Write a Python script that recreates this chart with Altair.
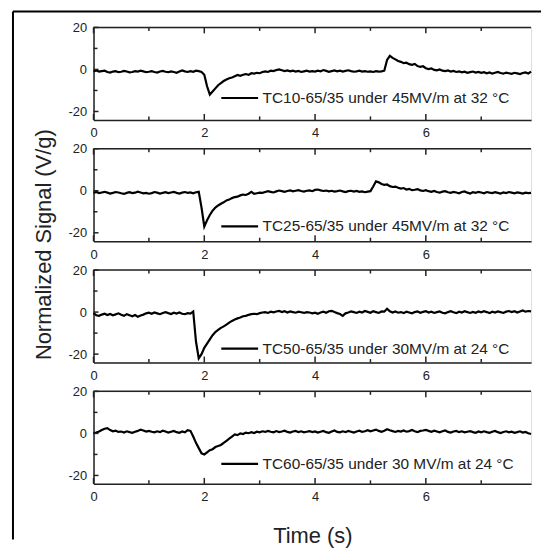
import altair as alt
import pandas as pd

# sampling grid (seconds)
times = [round(i * 0.05, 2) for i in range(159)]

labels = [
    "TC10-65/35 under 45MV/m at 32 °C",
    "TC25-65/35 under 45MV/m at 32 °C",
    "TC50-65/35 under 30MV/m at 24 °C",
    "TC60-65/35 under 30 MV/m at 24 °C",
]

s1 = [
    -1, -0.5, -1, -0.8, -0.6, -1.2, -1.5, -1, -0.8, -1.3, -1.1, -0.7, -1, -1.4, -1.2, -0.8, -1, -0.6, -0.9, -1.3,
    -1.1, -0.8, -1.2, -1.5, -1, -0.7, -1.1, -1.3, -0.9, -1.2, -1.6, -1, -0.5, -0.9, -1.2, -0.8, -1.1, -0.6, -0.8, -1.2,
    -2.5, -8, -12, -10.5, -9, -7.5, -6.5, -5.5, -4.8, -4.2, -3.8, -3.2, -2.6, -3, -2.5, -2.2, -2.6, -1.8, -2, -1.6,
    -1.8, -1.2, -0.9, -1.2, -0.6, -0.8, -0.3, 0, -0.4, -0.8, -0.5, -0.9, -0.6, -1, -0.7, -1.2, -0.9, -0.6, -1, -0.8,
    -1, -0.6, -0.9, -0.3, -0.7, -1.1, -0.8, -0.5, -0.9, -0.6, -1, -0.7, -0.4, -0.8, -1.1, -0.9, -0.6, -1, -0.8, -1.1,
    -0.9, -1.2, -0.8, -1, -0.9, -0.6, 4.5, 6.5, 5.5, 4.8, 4, 3.6, 3, 3.2, 2.5, 2.2, 2.6, 1.6, 1.2, 1.5,
    0.6, 0.2, 0.5, -0.2, -0.4, 0, -0.6, -0.8, -0.5, -1, -0.7, -1.2, -0.9, -1.4, -1.1, -1.6, -1.3, -1, -1.5, -1.2,
    -1.6, -1.3, -1.8, -1.4, -2, -1.6, -1.2, -1.7, -2, -1.5, -1.8, -2.1, -1.6, -1.9, -2.2, -1.7, -1.4, -1.9, -1.0,
]

s2 = [
    -1, -0.6, -1.1, -0.8, -0.5, -0.9, -1.3, -1, -0.6, -0.8, -1.2, -1.5, -1, -0.7, -1.1, -0.9, -0.4, -0.8, -1.2, -1,
    -1.4, -1.1, -0.6, -0.9, -1.3, -1, -0.7, -1.1, -0.8, -0.5, -1, -1.3, -0.9, -0.6, -1, -0.8, -1.2, -0.7, -0.5, -8,
    -17, -14, -11.5, -9.5, -8, -7, -6.2, -5.5, -4.6, -4.2, -3.5, -3, -2.8, -2.2, -1.8, -2, -1.4, -0.5, -1.5, -1.2,
    -0.9, -1, -0.6, -0.2, -0.5, -0.8, -0.3, 0.1, -0.2, -0.5, -0.1, 0.2, -0.3, 0, 0.3, -0.1, -0.4, 0, 0.2, -0.2,
    0.4, 0.6, 0.2, -0.1, 0.1, -0.3, 0, -0.4, -0.2, 0.1, -0.3, -0.6, -0.2, 0, -0.4, -0.1, -0.5, -0.3, -0.7, -0.4,
    -0.2, 2, 4.5, 4, 3.2, 2.8, 3, 2.2, 1.8, 2, 1.4, 1, 1.3, 0.6, 0.9, 0.3, 0.5, 0.8, 0.2, -0.1,
    0.3, -0.2, -0.5, -0.1, -0.6, -0.9, -0.4, -0.2, -0.7, -1, -0.5, -0.8, -1.2, -0.6, -0.3, -0.9, -1.3, -0.7, -1, -0.5,
    -0.8, -1.2, -0.6, -0.9, -1.1, -0.7, -1, -1.3, -0.8, -1.1, -0.6, -0.9, -1.2, -0.8, -1, -1.3, -0.9, -1.1, -1.0,
]

s3 = [
    -0.5, -1.5, -1.8, -1.2, -0.8, -1.4, -0.9, -1.5, -1.1, -0.6, -1.3, -1.8, -1, -1.5, -2, -1.4, -2.2, -1.6, -1.2, -0.6,
    -0.3, -0.8, -0.2, -0.6, -1, -0.4, 0, -0.5, -0.9, -0.3, -0.7, -0.2, -0.8, -1, -0.5, -0.7, 0.3, -14, -22, -20,
    -17, -15, -13, -11, -9.5, -8.5, -7.5, -6.8, -6, -5, -4.2, -3.5, -3, -2.6, -2, -1.8, -1.3, -1, -0.8, -1,
    -0.5, -0.2, 0, -0.4, 0.2, -0.1, 0.3, 0.6, 0, 0.4, -0.2, 0.3, 0, -0.3, 0.2, -0.1, -0.4, 0, -0.2, -0.6,
    -0.3, -0.8, -0.2, 0.2, -0.3, 0.4, 0.6, 0, -0.5, -0.9, -1.8, -0.6, -0.2, 0.3, 0, -0.4, 0.2, -0.2, 0.5, 0.1,
    -0.3, 0.4, 0, -0.4, 0.3, 0.2, 1.6, 0.4, -0.2, 0.3, -0.3, 0, -0.5, 0.2, -0.2, -0.6, 0, 0.3, -0.3, 0.1,
    0.4, -0.2, 0.2, -0.4, 0, 0.3, -0.3, -0.6, 0, 0.4, -0.1, -0.5, 0.2, -0.2, 0.4, 0, -0.4, 0.1, -0.3, 0.3,
    -0.1, 0.4, 0, -0.5, 0.2, -0.2, 0.3, 0, -0.4, 0.2, 0.5, 0, 0.4, -0.2, 0.3, 0.8, 0.2, 0.5, 0.3,
]

s4 = [
    0, 0.4, 0.9, 1.6, 2.2, 2.5, 1.6, 1.0, 1.3, 0.7, 0.9, 0.4, 1.0, 0.6, 0.3, 0.8, 1.2, 1.8, 1.4, 0.9,
    1.2, 0.8, 0.5, 1.0, 0.6, 1.3, 0.9, 0.4, 0.8, 1.2, 0.6, 0.3, 0.9, 0.5, 1.5, 1.2, -1.5, -4.5, -7, -9.5,
    -10, -9, -8, -7.5, -6.5, -6, -5.5, -4.5, -3.5, -2.5, -1.5, -0.5, -0.8, 0, -0.3, 0.4, 0.1, 0.6, 0.2, 0.8,
    0.5, 1.0, 0.7, 1.2, 0.8, 0.5, 1.1, 0.6, 0.9, 1.3, 0.7, 0.4, 0.9, 1.2, 0.6, 1.0, 0.5, 0.8, 1.1, 0.6,
    0.9, 0.4, 0.8, 1.2, 0.6, 0.3, 0.9, 1.4, 0.7, 0.5, 1.0, 0.6, 1.2, 0.8, 0.4, 0.9, 1.3, 0.7, 1.0, 1.5,
    1.0, 1.4, 1.8, 1.2, 0.8, 1.3, 2.0, 1.5, 1.1, 0.7, 1.2, 0.9, 1.4, 0.8, 1.1, 1.6, 1.0, 0.6, 1.2, 1.4,
    1.7, 1.2, 0.8, 1.3, 0.9, 0.5, 1.0, 1.4, 0.7, 0.4, 0.9, 1.2, 0.6, 1.0, 0.5, 0.8, 1.1, 0.6, 0.3, 0.9,
    0.5, 1.0, 0.6, 0.3, 0.8, 1.2, 0.6, 0.2, 0.7, 1.0, 0.5, 0.8, 0.3, 0.6, 1.0, 0.4, 0.7, 0.1, -0.3,
]

series = [s1, s2, s3, s4]
legend_y = [51, 58, 59, 53]

x_major = [0, 2, 4, 6]
x_minor = [1, 3, 5, 7]
y_major = [-20, 0, 20]
y_minor = [-10, 10]

X_DOMAIN = [0, 7.9]
Y_DOMAIN = [-24, 20]
W, H = 440, 93
FONT = "Liberation Sans"
INK = "#222222"


def panel(i):
    df = pd.DataFrame({"t": times, "v": series[i], "name": labels[i]})
    xs = alt.Scale(domain=X_DOMAIN, nice=False, zero=False)
    ys = alt.Scale(domain=Y_DOMAIN, nice=False, zero=False)

    xa = dict(values=x_major, ticks=False, grid=False, domain=True, domainColor=INK,
              domainWidth=1.5, labelFontSize=13, labelColor=INK, labelPadding=7,
              labelFlush=False, labelFont=FONT, title=None)
    if i == 3:
        xa.update(title="Time (s)", titleFontSize=22, titleFont=FONT, titleFontWeight="normal",
                  titleColor=INK, titleY=59, titleBaseline="alphabetic")
    ya = dict(values=y_major, ticks=False, grid=False, domain=True, domainColor=INK,
              domainWidth=1.5, labelFontSize=13, labelColor=INK, labelPadding=7,
              labelFont=FONT, labelExpr="'' + datum.value", title=None)
    if i == 0:
        ya.update(title="Normalized Signal (V/g)", titleFontSize=22, titleFont=FONT,
                  titleFontWeight="normal", titleColor=INK, titleX=-50, titleY=218,
                  titleAngle=270, titleAlign="center", titleBaseline="middle")

    line = alt.Chart(df).mark_line(strokeWidth=2.2).encode(
        x=alt.X("t:Q", scale=xs, axis=alt.Axis(**xa)),
        y=alt.Y("v:Q", scale=ys, axis=alt.Axis(**ya)),
        color=alt.Color(
            "name:N",
            scale=alt.Scale(range=["black"]),
            legend=alt.Legend(orient="none", legendX=127, legendY=legend_y[i], title=None,
                              symbolType="stroke", symbolSize=1369, symbolStrokeWidth=2.2,
                              labelFontSize=15.5, labelFont=FONT, labelColor=INK,
                              labelOffset=3, padding=0, labelLimit=500),
        ),
    )

    def xt(vals, y1, y2):
        return alt.Chart(pd.DataFrame({"t": vals})).mark_rule(color=INK, strokeWidth=1.5).encode(
            x=alt.X("t:Q", scale=xs), y=alt.value(y1), y2=alt.value(y2))

    def yt(vals, x1, x2):
        return alt.Chart(pd.DataFrame({"v": vals})).mark_rule(color=INK, strokeWidth=1.5).encode(
            y=alt.Y("v:Q", scale=ys), x=alt.value(x1), x2=alt.value(x2))

    one = pd.DataFrame({"k": [0]})
    top_border = alt.Chart(one).mark_rule(color=INK, strokeWidth=1.5).encode(
        x=alt.value(0), x2=alt.value(W), y=alt.value(0))

    layers = [line, xt(x_major, H, H - 6), xt(x_major, 0, 6), xt(x_minor, H, H - 3.5),
              xt(x_minor, 0, 3.5), yt(y_major, 0, 5), yt(y_minor, 0, 4), top_border]
    if i == 0:
        layers.append(alt.Chart(one).mark_rule(color="black", strokeWidth=2).encode(
            x=alt.value(-81), y=alt.value(-16), y2=alt.value(515)))
        layers.append(alt.Chart(one).mark_rule(color="black", strokeWidth=2).encode(
            x=alt.value(-81), x2=alt.value(450), y=alt.value(-16)))
    return alt.layer(*layers).properties(width=W, height=H)


chart = (
    alt.vconcat(*[panel(i) for i in range(4)], spacing=29, bounds="flush")
    .resolve_scale(color="independent")
    .resolve_legend(color="independent")
    .properties(padding={"left": 3, "top": 0, "right": 0, "bottom": 0})
    .configure_view(strokeWidth=0)
    .configure(font=FONT)
)

chart.save("out.html", embed_options={"renderer": "svg", "actions": False})
